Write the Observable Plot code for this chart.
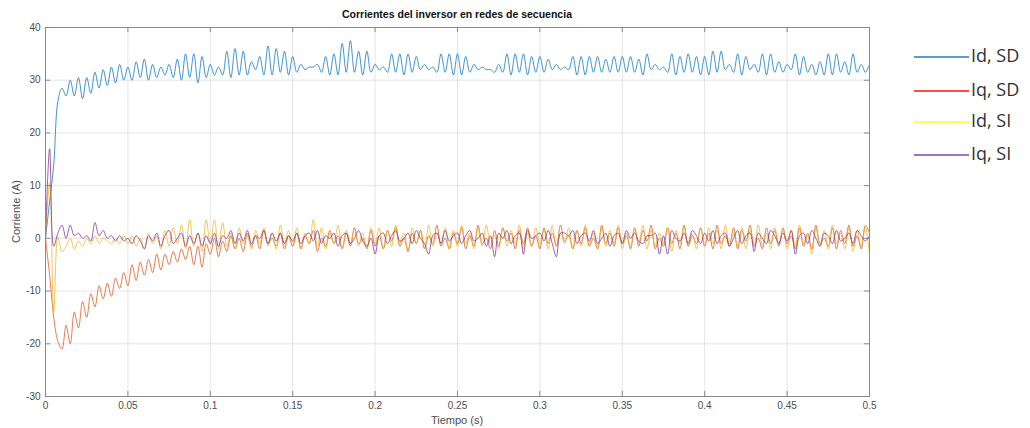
<!DOCTYPE html>
<html>
<head>
<meta charset="utf-8">
<script src="https://cdn.jsdelivr.net/npm/d3@7"></script>
<script src="https://cdn.jsdelivr.net/npm/@observablehq/plot@0.6"></script>
<style>
  html, body { margin: 0; padding: 0; background: #fff; }
  #chart { width: 1030px; height: 428px; }
</style>
</head>
<body>
<div id="chart"></div>
<script>
const step = 0.0025;

const idSD = [
  0, 7, 14, 26, 28.5, 27, 30, 27, 30.5, 26.5, 30.5, 27.5, 31.5, 28.5, 32, 29, 32.5, 29.5, 33, 30,
  32.5, 30, 33.5, 30.5, 34, 30, 33, 30.5, 32.5, 31, 33, 30.5, 34, 30, 35, 30.5, 35, 29.5, 34.5, 30.5,
  33, 31, 32.5, 31, 35.5, 30.5, 36, 31, 35.5, 31, 33.5, 32, 34.5, 31, 36.5, 31, 36, 31.5, 35.5, 31,
  34.5, 31.5, 33, 32, 32.5, 32.5, 33, 31.5, 34.5, 31, 35, 31, 37, 31.5, 37.5, 31.5, 35.5, 31, 35.5, 31.5,
  33, 32, 32.5, 31.5, 35, 31.5, 35, 31, 35, 31.5, 34.5, 32, 33, 32, 32.5, 31.5, 35, 31.5, 35, 31,
  35, 31, 34.5, 31.5, 33, 32, 32.5, 32, 32, 31.5, 33, 31.5, 35, 31, 35, 31.5, 35, 31, 34.5, 31.5,
  34.5, 31.5, 34, 32, 33, 32, 32.5, 32, 34.5, 31, 34.5, 31, 34.5, 31.5, 34.5, 31.5, 34, 31.5, 34.5, 31.5,
  34.5, 31.5, 34.5, 31.5, 34, 31, 35, 32, 33, 32, 32.5, 31.5, 35, 31, 34.5, 31.5, 35, 31.5, 34.5, 31,
  34.5, 31, 35.5, 31.5, 35.5, 32, 33, 31.5, 35, 31, 34.5, 32, 33, 31.5, 35, 31, 35, 31.5, 33.5, 31.5,
  33, 32, 35, 31, 34.5, 31.5, 33, 31, 33.5, 31, 35, 31, 35, 31.5, 33.5, 31, 35, 31.5, 33, 31.5,
  33
];

const iqSD = [
  0, -7, -15, -19.5, -21, -16.5, -20, -14, -17, -12, -15, -10.5, -13, -9, -11.5, -8.5, -11, -7.5, -9.5, -6.5,
  -9, -5, -8, -4.5, -7, -4, -6.5, -3, -6, -3, -5, -2.5, -4.5, -2, -4, -1.5, -5, -1.5, -5.5, -1,
  -3, 0, -3.5, -0.5, -2.5, 0.5, -2, 0, -2.5, 1, -1.5, 0.5, -2, 1.5, -1, 0, -1.5, 1, -2, 0.5,
  -1.5, 1, -2, 0.5, -1, 1.5, -2.5, 0, -1.5, 1.5, -1, 0.5, -2, 1, -1.5, 2, -1, 0, -2, 1.5,
  -1.5, 0.5, -2, 1.5, -0.5, 2, -1.5, 0, -2.5, 1, -1, 1.5, -2, 0.5, -1, 2.5, -1.5, 0, -2, 1,
  -1, 2, -2, 0.5, -1.5, 2.5, -1, 0, -2, 1.5, -1.5, 2, -0.5, 1, -2, 1.5, -1, 2, -1.5, 0.5,
  -2, 2, -1, 1, -1.5, 2.5, -0.5, 0.5, -2, 1.5, -1, 2, -1.5, 0, -2, 2.5, -1, 1, -1.5, 2,
  -1, 0.5, -2, 2, -1.5, 1.5, -0.5, 2.5, -2, 0, -1.5, 2, -1, 1, -2, 2.5, -1.5, 0.5, -1, 2,
  -1.5, 1, -2, 2.5, -1, 0.5, -1.5, 2, -2, 1.5, -0.5, 2.5, -1.5, 0, -2, 2, -1, 1.5, -1.5, 2,
  -1, 0.5, -2, 2, -1.5, 1, -2, 2.5, -1, 0, -1.5, 2, -2, 1.5, -1, 2.5, -1.5, 0.5, -2, 2.5,
  1
];

const idSI = [
  0, 10.5, -14, 0.3, -2.5, -1.5, 0, -2, -0.5, -1.5, 0, -1, 0.5, -1, 0, -0.5, -1, 0, -1, 0.5,
  -1, 0.5, -1.5, 0, -2, 1, -1, 0.5, -2, 1.5, -1.5, 2, -1, 2.5, -2, 3.5, -1.5, 1, -2.5, 3.5,
  -1, 3.5, -2, 3, -1.5, 1, -2, 2, -1, 0.5, -2, 1.5, -1, 2, -1.5, 1, -2, 2.5, -1, 1.5,
  -1.5, 2, -2, 1, -1, 3.5, -1.5, 2, -2, 1, -1, 2.5, -2, 1.5, -1, 2, -1.5, 1, -2, 2,
  -1, 2, -2, 1.5, -1.5, 2.5, -1, 1, -2.5, 2, -1, 1.5, -2, 2.5, -1.5, 1, -1, 2, -2, 1.5,
  -1.5, 2.5, -1, 1, -2, 2, -1.5, 2.5, -1, 0.5, -2, 2, -1.5, 1.5, -1, 2.5, -2, 1, -1.5, 2,
  -1, 1.5, -2, 2.5, -1.5, 1, -1, 2, -2, 1.5, -1.5, 2.5, -1, 1, -2, 2, -1.5, 1.5, -1, 2.5,
  -2, 1, -1.5, 2, -1, 2.5, -2, 1.5, -1.5, 1, -1, 2, -2.5, 1.5, -1, 2.5, -1.5, 1, -2, 2,
  -1.5, 2, -1, 1.5, -2, 2.5, -1, 1, -1.5, 2, -2, 1.5, -1, 2.5, -1.5, 1, -2, 2, -1, 1.5,
  -2, 1.5, -1.5, 2.5, -1, 1, -3, 2, -1.5, 1.5, -2, 2.5, -1, 1, -2, 2, -2.5, 1.5, -1.5, 2,
  -3
];

const iqSI = [
  0, 17, -1.5, 1, 2.5, 0, 2.5, 0.5, 1, 0, 0.5, -0.5, 3, 0.5, 1.5, 0, 0.5, -0.5, 0.5, -0.5,
  0, -1, 0.5, -0.5, -2, 0.5, -0.5, 1, -1.5, 0.5, 1.5, -1, 0, 1, -1.5, 0.5, -1, 1, -1.5, 0.5,
  -1, 1, -1.5, 0.5, 0, 1.5, -1, 1, -0.5, 1.5, -1, 0.5, 0, 1.5, -1, 1, -0.5, 1, -1, 0.5,
  -0.5, 1, -1, 0.5, 1, -0.5, 1.5, -1, 0.5, 0, 1, -1.5, 0.5, 1, -1, 0, 1.5, -0.5, -1.5, 0,
  -3, 0.5, 1, -1, 0.5, 1.5, -0.5, 0, 1, -1, 1.5, 0, -1, -3, 0.5, 1, -1, 1.5, -0.5, 0.5,
  1, -1, 0.5, 1.5, -0.5, 0, 1, -1.5, 0.5, -3.5, 1, 0, 1.5, -1, 0.5, 1, -3, 1.5, 0, 0.5,
  1, -0.5, 1.5, -1, -3.5, 1, 1, 0.5, 1.5, -1, 0.5, 1, -0.5, 1.5, -1, 0, 1, -1.5, 0.5, 1,
  -1, 1.5, 0, 1, -0.5, -1, 0.5, 0.5, 1, -3, 0.5, -3, 1.5, 0, -0.5, 1, -1, 1.5, 0.5, -1,
  1, -0.5, 1.5, -1, 0.5, 1, -1.5, 0, 1.5, -1, 0.5, 1, -2.5, 1, 0, -1, 1.5, 0.5, -1, 1,
  -0.5, 1.5, -3, 0.5, 1, -1, 1.5, 0, -1.5, 1, 0.5, -1, 1.5, -0.5, 0, 1, -1, 1.5, 0.5, -0.5,
  0.5
];

const seriesNames = ["Id, SD", "Iq, SD", "Id, SI", "Iq, SI"];
const seriesColors = ["#0072BD", "#D95319", "#EDB120", "#7E2F8E"];
const legendColors = ["#5B9BD5", "#FF4B4B", "#FFFF4D", "#A074C4"];

const xTicks = [0, 0.05, 0.1, 0.15, 0.2, 0.25, 0.3, 0.35, 0.4, 0.45, 0.5];
const xTickLabels = ["0", "0.05", "0.1", "0.15", "0.2", "0.25", "0.3", "0.35", "0.4", "0.45", "0.5"];
const yTicks = [-30, -20, -10, 0, 10, 20, 30, 40];
const yTickLabels = ["-30", "-20", "-10", "0", "10", "20", "30", "40"];

const titleText = "Corrientes del inversor en redes de secuencia";
const xLabel = "Tiempo (s)";
const yLabel = "Corriente (A)";

// ---- Build tidy rows ----
const allSeries = [idSD, iqSD, idSI, iqSI];
const rows = allSeries.map((vals, k) =>
  vals.map((v, i) => ({t: i * step, v, s: seriesNames[k]}))
);

const W = 1030, H = 428;
const mL = 45, mR = 161, mT = 27, mB = 32;
const innerH = H - mT - mB;
const innerW = W - mL - mR;
const tickLen = 5;
const axisGray = "#8a8a8a";
const textGray = "#4d4d4d";

const xFmt = d => xTickLabels[xTicks.indexOf(d)];
const yFmt = d => yTickLabels[yTicks.indexOf(d)];

const chart = Plot.plot({
  width: W, height: H,
  marginLeft: mL, marginRight: mR, marginTop: mT, marginBottom: mB,
  style: {fontFamily: "'Liberation Sans', Arial, sans-serif", fontSize: "10px", color: textGray, background: "#fff", overflow: "visible"},
  x: {domain: [0, 0.5], label: null},
  y: {domain: [-30, 40], label: null},
  marks: [
    Plot.gridX(xTicks, {stroke: "#000", strokeOpacity: 0.1}),
    Plot.gridY(yTicks, {stroke: "#000", strokeOpacity: 0.1}),
    ...rows.map((r, k) => Plot.lineY(r, {x: "t", y: "v", stroke: seriesColors[k], strokeWidth: 1, strokeOpacity: 0.75, curve: "catmull-rom"})),
    // inward ticks (MATLAB style) on all four sides
    Plot.ruleX(xTicks, {stroke: axisGray, insetTop: innerH - tickLen}),
    Plot.ruleX(xTicks, {stroke: axisGray, insetBottom: innerH - tickLen}),
    Plot.ruleY(yTicks, {stroke: axisGray, insetRight: innerW - tickLen}),
    Plot.ruleY(yTicks, {stroke: axisGray, insetLeft: innerW - tickLen}),
    Plot.frame({stroke: axisGray}),
    Plot.axisX(xTicks, {tickSize: 0, tickPadding: 5, tickFormat: xFmt, label: null, fill: textGray}),
    Plot.axisY(yTicks, {tickSize: 0, tickPadding: 5, tickFormat: yFmt, label: null, fill: textGray})
  ]
});

document.getElementById("chart").appendChild(chart);

const svg = d3.select(chart);
const cx = mL + innerW / 2;

svg.append("text")
  .attr("x", cx).attr("y", 18)
  .attr("text-anchor", "middle")
  .attr("font-family", "'Liberation Sans', Arial, sans-serif")
  .attr("font-size", 10.5).attr("font-weight", "bold").attr("fill", "#111")
  .text(titleText);

svg.append("text")
  .attr("x", cx).attr("y", 424)
  .attr("text-anchor", "middle")
  .attr("font-family", "'Liberation Sans', Arial, sans-serif")
  .attr("font-size", 11).attr("fill", textGray)
  .text(xLabel);

svg.append("text")
  .attr("transform", `translate(20, ${mT + innerH / 2}) rotate(-90)`)
  .attr("text-anchor", "middle")
  .attr("font-family", "'Liberation Sans', Arial, sans-serif")
  .attr("font-size", 11).attr("fill", textGray)
  .text(yLabel);

// legend
const legendY = [55, 89, 120, 153];
const lg = svg.append("g").attr("text-anchor", "start");
seriesNames.forEach((name, k) => {
  lg.append("line")
    .attr("x1", 914).attr("x2", 969)
    .attr("y1", legendY[k] + 2).attr("y2", legendY[k] + 2)
    .attr("stroke", legendColors[k]).attr("stroke-width", 2);
  lg.append("text")
    .attr("x", 971).attr("y", legendY[k] + 7)
    .attr("text-anchor", "start")
    .attr("font-family", "'Open Sans', 'Noto Sans', sans-serif")
    .attr("font-size", 18).attr("fill", "#333")
    .text(name);
});
</script>
</body>
</html>
